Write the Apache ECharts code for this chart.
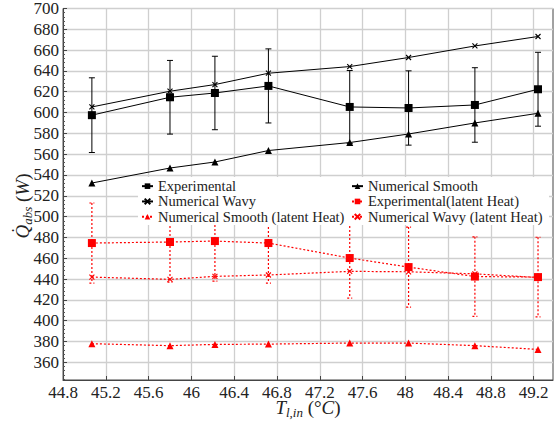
<!DOCTYPE html>
<html>
<head>
<meta charset="utf-8">
<script src="https://cdn.jsdelivr.net/npm/echarts@6/dist/echarts.min.js"></script>
<style>
  html, body { margin: 0; padding: 0; background: #fff; }
  #chart { width: 560px; height: 424px; }
</style>
</head>
<body>
<div id="chart"></div>
<script>
// Inlet liquid temperature (°C) of each test point
const inletTemp = [45.07, 45.80, 46.22, 46.72, 47.48, 48.03, 48.65, 49.24];

// Absorbed heat (W)
const experimental          = [597.5, 614.7, 618.8, 625.6, 605.4, 604.4, 607.3, 622.4];
const experimentalErr       = [35.9, 35.4, 35.3, 35.6, 35.0, 35.7, 35.8, 35.5];
const numericalWavy         = [605.4, 620.5, 626.9, 637.8, 644.2, 652.9, 664.0, 673.1];
const numericalSmooth       = [532.3, 546.7, 552.5, 563.5, 571.2, 579.4, 590.0, 599.3];
const experimentalLatent    = [474.6, 475.6, 476.5, 474.6, 460.2, 451.5, 442.4, 441.9];
const experimentalLatentErr = [38.5, 38.5, 38.5, 38.5, 38.5, 38.5, 38.2, 38.3];
const numericalWavyLatent   = [441.9, 439.7, 442.6, 443.9, 447.4, 447.0, 445.0, 441.5];
const numericalSmoothLatent = [377.9, 376.0, 377.2, 377.5, 378.5, 378.5, 376.0, 372.4];

// Axis ticks
const xTicks = [44.8, 45.2, 45.6, 46, 46.4, 46.8, 47.2, 47.6, 48, 48.4, 48.8, 49.2];
const yTicks = [360, 380, 400, 420, 440, 460, 480, 500, 520, 540, 560, 580, 600, 620, 640, 660, 680, 700];
const yMinorTicks = [];
for (let v = 344; v < 700; v += 4) { if (v % 20 !== 0) yMinorTicks.push(v); }

const F = 'Liberation Serif';
const RED = '#ff0000';

const pairs = (ys) => inletTemp.map((x, i) => [x, ys[i]]);
const errTriples = (ys, es) => inletTemp.map((x, i) => [x, ys[i], es[i]]);

const crossSymbol = 'path://M0,0L10,10M0,10L10,0';

function errorBarSeries(name, ys, es, color, dashed) {
  return {
    name: name,
    type: 'custom',
    z: 1,
    silent: true,
    data: errTriples(ys, es),
    encode: { x: 0, y: 1 },
    renderItem: function (params, api) {
      const x = api.value(0), y = api.value(1), e = api.value(2);
      const top = api.coord([x, y + e]);
      const bot = api.coord([x, y - e]);
      const cap = dashed ? 2.5 : 3;
      const style = { stroke: color, lineWidth: dashed ? 1.2 : 1, fill: null };
      if (dashed) style.lineDash = [2, 2];
      return {
        type: 'group',
        children: [
          { type: 'line', shape: { x1: top[0], y1: top[1], x2: bot[0], y2: bot[1] }, style: style },
          { type: 'line', shape: { x1: top[0] - cap, y1: top[1], x2: top[0] + cap, y2: top[1] }, style: style },
          { type: 'line', shape: { x1: bot[0] - cap, y1: bot[1], x2: bot[0] + cap, y2: bot[1] }, style: style }
        ]
      };
    }
  };
}

function lineSeries(name, ys, color, symbol, size, dashed) {
  return {
    name: name,
    type: 'line',
    z: 2,
    data: pairs(ys),
    symbol: symbol,
    symbolSize: size,
    showAllSymbol: true,
    lineStyle: { color: color, width: dashed ? 1.2 : 1, type: dashed ? [2, 2] : 'solid' },
    itemStyle: { color: color, borderColor: color, borderWidth: symbol === crossSymbol ? 1.1 : 0 }
  };
}

const legendText = { fontFamily: F, fontSize: 14.5, color: '#222', lineHeight: 15.3 };

const richAxisName = {
  q: { fontFamily: F, fontStyle: 'italic', fontSize: 19, lineHeight: 24, verticalAlign: 'middle', fill: '#222' },
  s: { fontFamily: F, fontStyle: 'italic', fontSize: 13, lineHeight: 24, verticalAlign: 'bottom', fill: '#222' },
  n: { fontFamily: F, fontSize: 19, lineHeight: 24, verticalAlign: 'middle', fill: '#222' }
};

const option = {
  grid: {
    left: 63, top: 5, right: 7, bottom: 44,
    show: true, borderColor: '#444', borderWidth: 1
  },
  xAxis: {
    type: 'value',
    min: 44.8,
    max: 49.38,
    axisLine: { show: true, lineStyle: { color: '#444', width: 1 } },
    axisTick: { show: true, inside: true, length: 4, customValues: xTicks, lineStyle: { color: '#444' } },
    axisLabel: { customValues: xTicks, fontFamily: F, fontSize: 17, color: '#222', margin: 4 },
    splitLine: { show: true, lineStyle: { color: '#cfcfcf', width: 1.3 } }
  },
  yAxis: [
    {
      type: 'value',
      min: 343,
      max: 700,
      axisLine: { show: true, lineStyle: { color: '#444', width: 1 } },
      axisTick: { show: true, inside: true, length: 4, customValues: yTicks, lineStyle: { color: '#444' } },
      axisLabel: { customValues: yTicks, fontFamily: F, fontSize: 17, color: '#222', margin: 4 },
      splitLine: { show: true, lineStyle: { color: '#cfcfcf', width: 1.3 } }
    },
    {
      type: 'value',
      min: 343,
      max: 700,
      position: 'left',
      axisLine: { show: false },
      axisTick: { show: true, inside: true, length: 2, customValues: yMinorTicks, lineStyle: { color: '#555' } },
      axisLabel: { show: false },
      splitLine: { show: false }
    }
  ],
  legend: [
    {
      orient: 'vertical',
      left: 141, top: 178.5,
      padding: 0,
      itemGap: 0,
      itemWidth: 11, itemHeight: 7,
      selectedMode: false,
      textStyle: legendText,
      data: ['Experimental', 'Numerical Wavy', 'Numerical Smooth (latent Heat)']
    },
    {
      orient: 'vertical',
      left: 351, top: 178.5,
      padding: 0,
      itemGap: 0,
      itemWidth: 11, itemHeight: 7,
      selectedMode: false,
      textStyle: legendText,
      data: ['Numerical Smooth', 'Experimental(latent Heat)', 'Numerical Wavy (latent Heat)']
    }
  ],
  graphic: [
    {
      type: 'rect', z: 3, silent: true,
      shape: { x: 138, y: 177, width: 411, height: 48 },
      style: { fill: '#fff' }
    },
    {
      type: 'text', z: 5, silent: true,
      x: 22, y: 206, rotation: Math.PI / 2,
      style: {
        text: '{q|Q\u0307}{s|abs}{n| (}{q|W}{n|)}',
        fontFamily: F, fontSize: 19,
        align: 'center', verticalAlign: 'middle',
        fill: '#222',
        rich: richAxisName
      }
    },
    {
      type: 'text', z: 5, silent: true,
      x: 308, y: 407,
      style: {
        text: '{q|T}{s|l,in}{n| (°}{q|C}{n|)}',
        fontFamily: F, fontSize: 19,
        align: 'center', verticalAlign: 'middle',
        fill: '#222',
        rich: richAxisName
      }
    }
  ],
  series: [
    errorBarSeries('Experimental error', experimental, experimentalErr, '#000', false),
    errorBarSeries('Experimental(latent Heat) error', experimentalLatent, experimentalLatentErr, RED, true),
    lineSeries('Experimental', experimental, '#000', 'rect', 8, false),
    lineSeries('Numerical Wavy', numericalWavy, '#000', crossSymbol, 5, false),
    lineSeries('Numerical Smooth', numericalSmooth, '#000', 'triangle', 7, false),
    lineSeries('Experimental(latent Heat)', experimentalLatent, RED, 'rect', 8, true),
    lineSeries('Numerical Smooth (latent Heat)', numericalSmoothLatent, RED, 'triangle', 7, true),
    lineSeries('Numerical Wavy (latent Heat)', numericalWavyLatent, RED, crossSymbol, 5, true)
  ]
};

// SVG output: text is laid out by the page's own font matching.
const chart = echarts.init(document.getElementById('chart'), null, { renderer: 'svg' });
chart.setOption(option);
</script>
</body>
</html>
